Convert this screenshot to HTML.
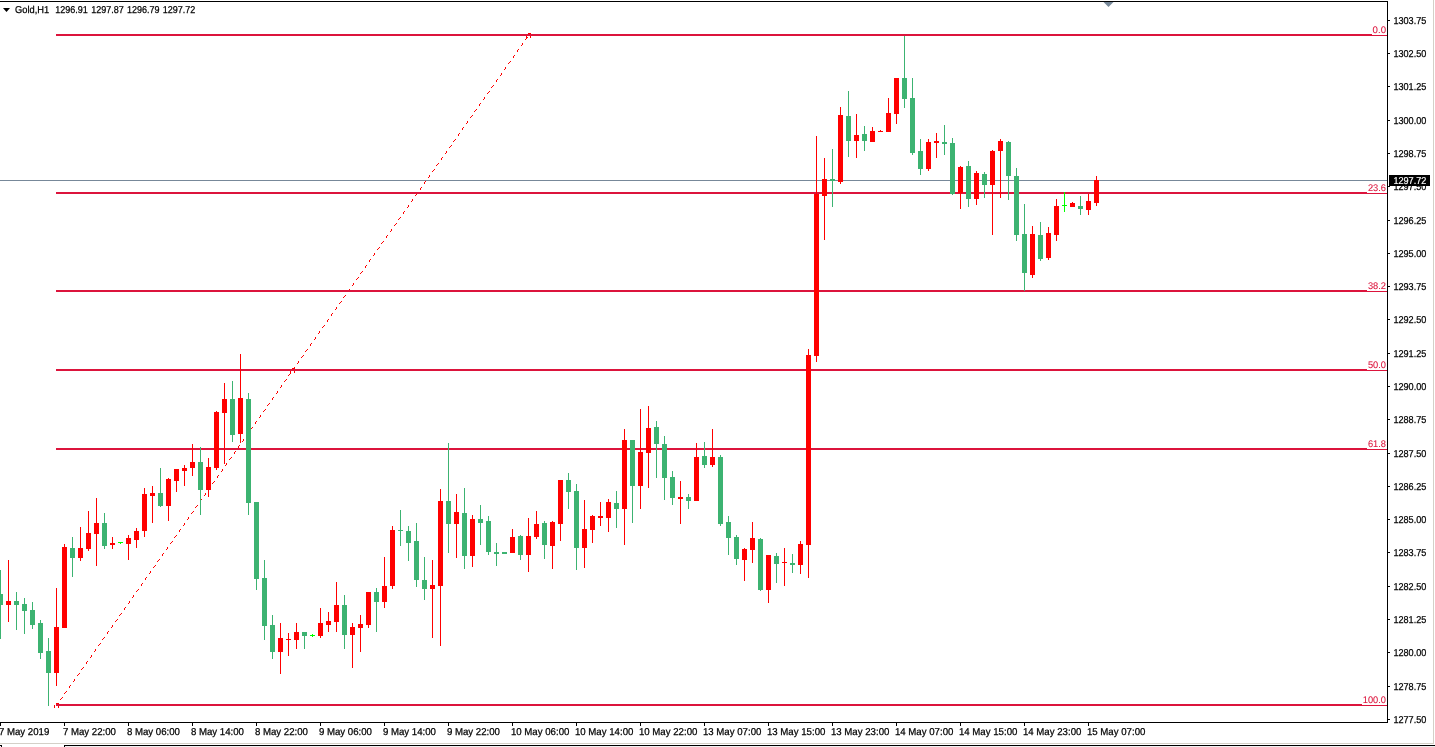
<!DOCTYPE html>
<html><head><meta charset="utf-8"><title>Gold,H1</title>
<style>
html,body{margin:0;padding:0;background:#fff;width:1435px;height:747px;overflow:hidden}
.t{font-family:"Liberation Sans",sans-serif;text-rendering:geometricPrecision;stroke-width:0.18px;paint-order:stroke fill;}
.k{stroke:#000;stroke-width:0.25px}.c{stroke:#dc143c;stroke-width:0.08px}.w{stroke:#fff}
</style></head><body>
<svg width="1435" height="747" viewBox="0 0 1435 747" shape-rendering="crispEdges" style="position:absolute;left:0;top:0">
<rect x="0" y="0" width="1435" height="747" fill="#fff"/>
<path d="M60 699h1v1h-1zM61 698h1v1h-1zM62 697h1v1h-1zM64 693h1v1h-1zM65 692h1v1h-1zM66 691h1v1h-1zM69 687h1v1h-1zM69 686h1v1h-1zM70 685h1v1h-1zM73 681h1v1h-1zM74 680h1v1h-1zM74 679h1v1h-1zM77 675h1v1h-1zM78 674h1v1h-1zM79 673h1v1h-1zM81 669h1v1h-1zM82 668h1v1h-1zM83 667h1v1h-1zM86 663h1v1h-1zM86 662h1v1h-1zM87 661h1v1h-1zM90 657h1v1h-1zM91 656h1v1h-1zM91 655h1v1h-1zM94 651h1v1h-1zM95 650h1v1h-1zM95 649h1v1h-1zM98 645h1v1h-1zM99 644h1v1h-1zM100 643h1v1h-1zM102 639h1v1h-1zM103 638h1v1h-1zM104 637h1v1h-1zM107 633h1v1h-1zM107 632h1v1h-1zM108 631h1v1h-1zM111 627h1v1h-1zM112 626h1v1h-1zM112 625h1v1h-1zM115 621h1v1h-1zM116 620h1v1h-1zM117 619h1v1h-1zM119 615h1v1h-1zM120 614h1v1h-1zM121 613h1v1h-1zM124 609h1v1h-1zM124 608h1v1h-1zM125 607h1v1h-1zM128 603h1v1h-1zM129 602h1v1h-1zM129 601h1v1h-1zM132 597h1v1h-1zM133 596h1v1h-1zM133 595h1v1h-1zM136 591h1v1h-1zM137 590h1v1h-1zM138 589h1v1h-1zM141 585h1v1h-1zM141 584h1v1h-1zM142 583h1v1h-1zM145 579h1v1h-1zM145 578h1v1h-1zM146 577h1v1h-1zM149 573h1v1h-1zM150 572h1v1h-1zM150 571h1v1h-1zM153 567h1v1h-1zM154 566h1v1h-1zM155 565h1v1h-1zM157 561h1v1h-1zM158 560h1v1h-1zM159 559h1v1h-1zM162 555h1v1h-1zM162 554h1v1h-1zM163 553h1v1h-1zM166 549h1v1h-1zM167 548h1v1h-1zM167 547h1v1h-1zM170 543h1v1h-1zM171 542h1v1h-1zM172 541h1v1h-1zM174 537h1v1h-1zM175 536h1v1h-1zM176 535h1v1h-1zM179 531h1v1h-1zM179 530h1v1h-1zM180 529h1v1h-1zM183 525h1v1h-1zM184 524h1v1h-1zM184 523h1v1h-1zM187 519h1v1h-1zM188 518h1v1h-1zM188 517h1v1h-1zM191 513h1v1h-1zM192 512h1v1h-1zM193 511h1v1h-1zM195 507h1v1h-1zM196 506h1v1h-1zM197 505h1v1h-1zM200 501h1v1h-1zM200 500h1v1h-1zM201 499h1v1h-1zM204 495h1v1h-1zM205 494h1v1h-1zM205 493h1v1h-1zM208 489h1v1h-1zM209 488h1v1h-1zM210 487h1v1h-1zM212 483h1v1h-1zM213 482h1v1h-1zM214 481h1v1h-1zM217 477h1v1h-1zM217 476h1v1h-1zM218 475h1v1h-1zM221 471h1v1h-1zM222 470h1v1h-1zM222 469h1v1h-1zM225 465h1v1h-1zM226 464h1v1h-1zM226 463h1v1h-1zM229 459h1v1h-1zM230 458h1v1h-1zM231 457h1v1h-1zM234 453h1v1h-1zM234 452h1v1h-1zM235 451h1v1h-1zM238 447h1v1h-1zM238 446h1v1h-1zM239 445h1v1h-1zM242 441h1v1h-1zM243 440h1v1h-1zM243 439h1v1h-1zM246 435h1v1h-1zM247 434h1v1h-1zM248 433h1v1h-1zM250 429h1v1h-1zM251 428h1v1h-1zM252 427h1v1h-1zM255 423h1v1h-1zM255 422h1v1h-1zM256 421h1v1h-1zM259 417h1v1h-1zM260 416h1v1h-1zM260 415h1v1h-1zM263 411h1v1h-1zM264 410h1v1h-1zM265 409h1v1h-1zM267 405h1v1h-1zM268 404h1v1h-1zM269 403h1v1h-1zM272 399h1v1h-1zM272 398h1v1h-1zM273 397h1v1h-1zM276 393h1v1h-1zM277 392h1v1h-1zM277 391h1v1h-1zM280 387h1v1h-1zM281 386h1v1h-1zM281 385h1v1h-1zM284 381h1v1h-1zM285 380h1v1h-1zM286 379h1v1h-1zM288 375h1v1h-1zM289 374h1v1h-1zM290 373h1v1h-1zM293 369h1v1h-1zM293 368h1v1h-1zM294 367h1v1h-1zM297 363h1v1h-1zM298 362h1v1h-1zM298 361h1v1h-1zM301 357h1v1h-1zM302 356h1v1h-1zM303 355h1v1h-1zM305 351h1v1h-1zM306 350h1v1h-1zM307 349h1v1h-1zM310 345h1v1h-1zM310 344h1v1h-1zM311 343h1v1h-1zM314 339h1v1h-1zM315 338h1v1h-1zM315 337h1v1h-1zM318 333h1v1h-1zM319 332h1v1h-1zM319 331h1v1h-1zM322 327h1v1h-1zM323 326h1v1h-1zM324 325h1v1h-1zM327 321h1v1h-1zM327 320h1v1h-1zM328 319h1v1h-1zM331 315h1v1h-1zM331 314h1v1h-1zM332 313h1v1h-1zM335 309h1v1h-1zM336 308h1v1h-1zM336 307h1v1h-1zM339 303h1v1h-1zM340 302h1v1h-1zM341 301h1v1h-1zM343 297h1v1h-1zM344 296h1v1h-1zM345 295h1v1h-1zM348 291h1v1h-1zM348 290h1v1h-1zM349 289h1v1h-1zM352 285h1v1h-1zM353 284h1v1h-1zM353 283h1v1h-1zM356 279h1v1h-1zM357 278h1v1h-1zM358 277h1v1h-1zM360 273h1v1h-1zM361 272h1v1h-1zM362 271h1v1h-1zM365 267h1v1h-1zM365 266h1v1h-1zM366 265h1v1h-1zM369 261h1v1h-1zM369 260h1v1h-1zM370 259h1v1h-1zM373 255h1v1h-1zM374 254h1v1h-1zM374 253h1v1h-1zM377 249h1v1h-1zM378 248h1v1h-1zM379 247h1v1h-1zM381 243h1v1h-1zM382 242h1v1h-1zM383 241h1v1h-1zM386 237h1v1h-1zM386 236h1v1h-1zM387 235h1v1h-1zM390 231h1v1h-1zM391 230h1v1h-1zM391 229h1v1h-1zM394 225h1v1h-1zM395 224h1v1h-1zM396 223h1v1h-1zM398 219h1v1h-1zM399 218h1v1h-1zM400 217h1v1h-1zM403 213h1v1h-1zM403 212h1v1h-1zM404 211h1v1h-1zM407 207h1v1h-1zM408 206h1v1h-1zM408 205h1v1h-1zM411 201h1v1h-1zM412 200h1v1h-1zM412 199h1v1h-1zM415 195h1v1h-1zM416 194h1v1h-1zM417 193h1v1h-1zM420 189h1v1h-1zM420 188h1v1h-1zM421 187h1v1h-1zM424 183h1v1h-1zM424 182h1v1h-1zM425 181h1v1h-1zM428 177h1v1h-1zM429 176h1v1h-1zM429 175h1v1h-1zM432 171h1v1h-1zM433 170h1v1h-1zM434 169h1v1h-1zM436 165h1v1h-1zM437 164h1v1h-1zM438 163h1v1h-1zM441 159h1v1h-1zM441 158h1v1h-1zM442 157h1v1h-1zM445 153h1v1h-1zM446 152h1v1h-1zM446 151h1v1h-1zM449 147h1v1h-1zM450 146h1v1h-1zM451 145h1v1h-1zM453 141h1v1h-1zM454 140h1v1h-1zM455 139h1v1h-1zM458 135h1v1h-1zM458 134h1v1h-1zM459 133h1v1h-1zM462 129h1v1h-1zM462 128h1v1h-1zM463 127h1v1h-1zM466 123h1v1h-1zM467 122h1v1h-1zM467 121h1v1h-1zM470 117h1v1h-1zM471 116h1v1h-1zM472 115h1v1h-1zM474 111h1v1h-1zM475 110h1v1h-1zM476 109h1v1h-1zM479 105h1v1h-1zM479 104h1v1h-1zM480 103h1v1h-1zM483 99h1v1h-1zM484 98h1v1h-1zM484 97h1v1h-1zM487 93h1v1h-1zM488 92h1v1h-1zM489 91h1v1h-1zM491 87h1v1h-1zM492 86h1v1h-1zM493 85h1v1h-1zM496 81h1v1h-1zM496 80h1v1h-1zM497 79h1v1h-1zM500 75h1v1h-1zM501 74h1v1h-1zM501 73h1v1h-1zM504 69h1v1h-1zM505 68h1v1h-1zM505 67h1v1h-1zM508 63h1v1h-1zM509 62h1v1h-1zM510 61h1v1h-1zM513 57h1v1h-1zM513 56h1v1h-1zM514 55h1v1h-1zM517 51h1v1h-1zM517 50h1v1h-1zM518 49h1v1h-1zM521 45h1v1h-1zM522 44h1v1h-1zM522 43h1v1h-1zM525 39h1v1h-1zM526 38h1v1h-1zM527 37h1v1h-1z" fill="#ff0000"/>
<path d="M56 703h1v1h-1zM57 703h1v1h-1zM58 703h1v1h-1zM58 703h1v1h-1zM58 704h1v1h-1zM58 705h1v1h-1zM58 706h1v1h-1zM58 707h1v1h-1zM54 705h1v1h-1zM54 706h1v1h-1zM54 707h1v1h-1zM292 368h1v1h-1zM293 368h1v1h-1zM294 368h1v1h-1zM294 368h1v1h-1zM294 369h1v1h-1zM294 370h1v1h-1zM294 371h1v1h-1zM294 372h1v1h-1zM290 370h1v1h-1zM290 371h1v1h-1zM290 372h1v1h-1zM528 33h1v1h-1zM529 33h1v1h-1zM530 33h1v1h-1zM530 33h1v1h-1zM530 34h1v1h-1zM530 35h1v1h-1zM530 36h1v1h-1zM530 37h1v1h-1zM526 35h1v1h-1zM526 36h1v1h-1zM526 37h1v1h-1z" fill="#ff0000"/>
<rect x="56" y="34" width="1331" height="2" fill="#dc143c"/>
<rect x="56" y="192" width="1331" height="2" fill="#dc143c"/>
<rect x="56" y="290" width="1331" height="2" fill="#dc143c"/>
<rect x="56" y="369" width="1331" height="2" fill="#dc143c"/>
<rect x="56" y="448" width="1331" height="2" fill="#dc143c"/>
<rect x="56" y="704" width="1331" height="2" fill="#dc143c"/>
<rect x="0" y="180" width="1387" height="1" fill="#778899"/>
<rect x="0" y="570" width="1" height="69" fill="#3cb371"/>
<rect x="-2" y="594" width="5" height="11" fill="#3cb371"/>
<rect x="8" y="560" width="1" height="62" fill="#ff0000"/>
<rect x="6" y="601" width="5" height="4" fill="#ff0000"/>
<rect x="16" y="592" width="1" height="38" fill="#3cb371"/>
<rect x="14" y="601" width="5" height="4" fill="#3cb371"/>
<rect x="24" y="598" width="1" height="36" fill="#3cb371"/>
<rect x="22" y="604" width="5" height="7" fill="#3cb371"/>
<rect x="32" y="602" width="1" height="27" fill="#3cb371"/>
<rect x="30" y="610" width="5" height="15" fill="#3cb371"/>
<rect x="40" y="620" width="1" height="39" fill="#3cb371"/>
<rect x="38" y="623" width="5" height="30" fill="#3cb371"/>
<rect x="48" y="638" width="1" height="68" fill="#3cb371"/>
<rect x="46" y="651" width="5" height="22" fill="#3cb371"/>
<rect x="56" y="588" width="1" height="98" fill="#ff0000"/>
<rect x="54" y="627" width="5" height="46" fill="#ff0000"/>
<rect x="64" y="544" width="1" height="84" fill="#ff0000"/>
<rect x="62" y="547" width="5" height="81" fill="#ff0000"/>
<rect x="72" y="537" width="1" height="40" fill="#3cb371"/>
<rect x="70" y="548" width="5" height="10" fill="#3cb371"/>
<rect x="80" y="527" width="1" height="34" fill="#ff0000"/>
<rect x="78" y="548" width="5" height="10" fill="#ff0000"/>
<rect x="88" y="511" width="1" height="40" fill="#ff0000"/>
<rect x="86" y="533" width="5" height="16" fill="#ff0000"/>
<rect x="96" y="498" width="1" height="68" fill="#ff0000"/>
<rect x="94" y="523" width="5" height="11" fill="#ff0000"/>
<rect x="104" y="513" width="1" height="36" fill="#3cb371"/>
<rect x="102" y="523" width="5" height="23" fill="#3cb371"/>
<rect x="112" y="537" width="1" height="12" fill="#ff0000"/>
<rect x="110" y="543" width="5" height="2" fill="#ff0000"/>
<rect x="120" y="542" width="1" height="2" fill="#00ff00"/>
<rect x="118" y="542" width="5" height="1" fill="#00ff00"/>
<rect x="128" y="535" width="1" height="25" fill="#ff0000"/>
<rect x="126" y="538" width="5" height="6" fill="#ff0000"/>
<rect x="136" y="528" width="1" height="20" fill="#ff0000"/>
<rect x="134" y="531" width="5" height="9" fill="#ff0000"/>
<rect x="144" y="488" width="1" height="49" fill="#ff0000"/>
<rect x="142" y="494" width="5" height="37" fill="#ff0000"/>
<rect x="152" y="486" width="1" height="37" fill="#ff0000"/>
<rect x="150" y="493" width="5" height="3" fill="#ff0000"/>
<rect x="160" y="468" width="1" height="39" fill="#3cb371"/>
<rect x="158" y="493" width="5" height="13" fill="#3cb371"/>
<rect x="168" y="478" width="1" height="43" fill="#ff0000"/>
<rect x="166" y="479" width="5" height="27" fill="#ff0000"/>
<rect x="176" y="469" width="1" height="23" fill="#ff0000"/>
<rect x="174" y="469" width="5" height="12" fill="#ff0000"/>
<rect x="184" y="465" width="1" height="21" fill="#ff0000"/>
<rect x="182" y="468" width="5" height="3" fill="#ff0000"/>
<rect x="192" y="444" width="1" height="32" fill="#ff0000"/>
<rect x="190" y="462" width="5" height="6" fill="#ff0000"/>
<rect x="200" y="447" width="1" height="68" fill="#3cb371"/>
<rect x="198" y="462" width="5" height="28" fill="#3cb371"/>
<rect x="208" y="458" width="1" height="39" fill="#ff0000"/>
<rect x="206" y="467" width="5" height="23" fill="#ff0000"/>
<rect x="216" y="411" width="1" height="59" fill="#ff0000"/>
<rect x="214" y="412" width="5" height="56" fill="#ff0000"/>
<rect x="224" y="383" width="1" height="81" fill="#ff0000"/>
<rect x="222" y="399" width="5" height="14" fill="#ff0000"/>
<rect x="232" y="381" width="1" height="61" fill="#3cb371"/>
<rect x="230" y="399" width="5" height="36" fill="#3cb371"/>
<rect x="240" y="354" width="1" height="89" fill="#ff0000"/>
<rect x="238" y="398" width="5" height="36" fill="#ff0000"/>
<rect x="248" y="393" width="1" height="122" fill="#3cb371"/>
<rect x="246" y="399" width="5" height="104" fill="#3cb371"/>
<rect x="256" y="502" width="1" height="88" fill="#3cb371"/>
<rect x="254" y="502" width="5" height="77" fill="#3cb371"/>
<rect x="264" y="560" width="1" height="80" fill="#3cb371"/>
<rect x="262" y="578" width="5" height="48" fill="#3cb371"/>
<rect x="272" y="615" width="1" height="44" fill="#3cb371"/>
<rect x="270" y="625" width="5" height="27" fill="#3cb371"/>
<rect x="280" y="623" width="1" height="51" fill="#ff0000"/>
<rect x="278" y="638" width="5" height="14" fill="#ff0000"/>
<rect x="288" y="633" width="1" height="23" fill="#ff0000"/>
<rect x="286" y="639" width="5" height="1" fill="#ff0000"/>
<rect x="296" y="623" width="1" height="26" fill="#ff0000"/>
<rect x="294" y="632" width="5" height="8" fill="#ff0000"/>
<rect x="304" y="632" width="1" height="17" fill="#3cb371"/>
<rect x="302" y="632" width="5" height="4" fill="#3cb371"/>
<rect x="312" y="634" width="1" height="3" fill="#00ff00"/>
<rect x="310" y="635" width="5" height="1" fill="#00ff00"/>
<rect x="320" y="608" width="1" height="30" fill="#ff0000"/>
<rect x="318" y="623" width="5" height="13" fill="#ff0000"/>
<rect x="328" y="612" width="1" height="20" fill="#ff0000"/>
<rect x="326" y="621" width="5" height="4" fill="#ff0000"/>
<rect x="336" y="582" width="1" height="50" fill="#ff0000"/>
<rect x="334" y="605" width="5" height="17" fill="#ff0000"/>
<rect x="344" y="595" width="1" height="54" fill="#3cb371"/>
<rect x="342" y="605" width="5" height="30" fill="#3cb371"/>
<rect x="352" y="623" width="1" height="45" fill="#ff0000"/>
<rect x="350" y="627" width="5" height="8" fill="#ff0000"/>
<rect x="360" y="615" width="1" height="37" fill="#ff0000"/>
<rect x="358" y="624" width="5" height="4" fill="#ff0000"/>
<rect x="368" y="592" width="1" height="36" fill="#ff0000"/>
<rect x="366" y="592" width="5" height="33" fill="#ff0000"/>
<rect x="376" y="588" width="1" height="44" fill="#3cb371"/>
<rect x="374" y="592" width="5" height="10" fill="#3cb371"/>
<rect x="384" y="557" width="1" height="51" fill="#ff0000"/>
<rect x="382" y="586" width="5" height="16" fill="#ff0000"/>
<rect x="392" y="526" width="1" height="63" fill="#ff0000"/>
<rect x="390" y="530" width="5" height="56" fill="#ff0000"/>
<rect x="400" y="510" width="1" height="36" fill="#3cb371"/>
<rect x="398" y="530" width="5" height="1" fill="#3cb371"/>
<rect x="408" y="526" width="1" height="35" fill="#3cb371"/>
<rect x="406" y="531" width="5" height="12" fill="#3cb371"/>
<rect x="416" y="523" width="1" height="64" fill="#3cb371"/>
<rect x="414" y="541" width="5" height="39" fill="#3cb371"/>
<rect x="424" y="557" width="1" height="43" fill="#3cb371"/>
<rect x="422" y="580" width="5" height="9" fill="#3cb371"/>
<rect x="432" y="560" width="1" height="78" fill="#ff0000"/>
<rect x="430" y="585" width="5" height="4" fill="#ff0000"/>
<rect x="440" y="489" width="1" height="157" fill="#ff0000"/>
<rect x="438" y="501" width="5" height="85" fill="#ff0000"/>
<rect x="448" y="443" width="1" height="110" fill="#3cb371"/>
<rect x="446" y="501" width="5" height="23" fill="#3cb371"/>
<rect x="456" y="494" width="1" height="64" fill="#ff0000"/>
<rect x="454" y="512" width="5" height="12" fill="#ff0000"/>
<rect x="464" y="488" width="1" height="81" fill="#3cb371"/>
<rect x="462" y="513" width="5" height="43" fill="#3cb371"/>
<rect x="472" y="515" width="1" height="52" fill="#ff0000"/>
<rect x="470" y="519" width="5" height="37" fill="#ff0000"/>
<rect x="480" y="505" width="1" height="40" fill="#3cb371"/>
<rect x="478" y="519" width="5" height="4" fill="#3cb371"/>
<rect x="488" y="516" width="1" height="39" fill="#3cb371"/>
<rect x="486" y="521" width="5" height="31" fill="#3cb371"/>
<rect x="496" y="543" width="1" height="23" fill="#3cb371"/>
<rect x="494" y="552" width="5" height="2" fill="#3cb371"/>
<rect x="504" y="552" width="1" height="2" fill="#3cb371"/>
<rect x="502" y="552" width="5" height="2" fill="#3cb371"/>
<rect x="512" y="529" width="1" height="24" fill="#ff0000"/>
<rect x="510" y="537" width="5" height="16" fill="#ff0000"/>
<rect x="520" y="535" width="1" height="25" fill="#3cb371"/>
<rect x="518" y="536" width="5" height="19" fill="#3cb371"/>
<rect x="528" y="518" width="1" height="54" fill="#ff0000"/>
<rect x="526" y="536" width="5" height="19" fill="#ff0000"/>
<rect x="536" y="511" width="1" height="28" fill="#ff0000"/>
<rect x="534" y="524" width="5" height="13" fill="#ff0000"/>
<rect x="544" y="521" width="1" height="38" fill="#3cb371"/>
<rect x="542" y="523" width="5" height="22" fill="#3cb371"/>
<rect x="552" y="521" width="1" height="48" fill="#ff0000"/>
<rect x="550" y="522" width="5" height="24" fill="#ff0000"/>
<rect x="560" y="480" width="1" height="61" fill="#ff0000"/>
<rect x="558" y="480" width="5" height="44" fill="#ff0000"/>
<rect x="568" y="473" width="1" height="36" fill="#3cb371"/>
<rect x="566" y="480" width="5" height="12" fill="#3cb371"/>
<rect x="576" y="484" width="1" height="86" fill="#3cb371"/>
<rect x="574" y="491" width="5" height="57" fill="#3cb371"/>
<rect x="584" y="500" width="1" height="68" fill="#ff0000"/>
<rect x="582" y="529" width="5" height="19" fill="#ff0000"/>
<rect x="592" y="515" width="1" height="28" fill="#ff0000"/>
<rect x="590" y="516" width="5" height="14" fill="#ff0000"/>
<rect x="600" y="502" width="1" height="24" fill="#ff0000"/>
<rect x="598" y="516" width="5" height="2" fill="#ff0000"/>
<rect x="608" y="499" width="1" height="33" fill="#ff0000"/>
<rect x="606" y="502" width="5" height="16" fill="#ff0000"/>
<rect x="616" y="491" width="1" height="37" fill="#3cb371"/>
<rect x="614" y="503" width="5" height="6" fill="#3cb371"/>
<rect x="624" y="429" width="1" height="116" fill="#ff0000"/>
<rect x="622" y="440" width="5" height="69" fill="#ff0000"/>
<rect x="632" y="440" width="1" height="83" fill="#3cb371"/>
<rect x="630" y="440" width="5" height="46" fill="#3cb371"/>
<rect x="640" y="409" width="1" height="100" fill="#ff0000"/>
<rect x="638" y="452" width="5" height="34" fill="#ff0000"/>
<rect x="648" y="406" width="1" height="82" fill="#ff0000"/>
<rect x="646" y="428" width="5" height="25" fill="#ff0000"/>
<rect x="656" y="421" width="1" height="57" fill="#3cb371"/>
<rect x="654" y="427" width="5" height="17" fill="#3cb371"/>
<rect x="664" y="436" width="1" height="64" fill="#3cb371"/>
<rect x="662" y="444" width="5" height="34" fill="#3cb371"/>
<rect x="672" y="471" width="1" height="34" fill="#3cb371"/>
<rect x="670" y="477" width="5" height="21" fill="#3cb371"/>
<rect x="680" y="481" width="1" height="43" fill="#ff0000"/>
<rect x="678" y="497" width="5" height="2" fill="#ff0000"/>
<rect x="688" y="494" width="1" height="15" fill="#3cb371"/>
<rect x="686" y="497" width="5" height="4" fill="#3cb371"/>
<rect x="696" y="443" width="1" height="58" fill="#ff0000"/>
<rect x="694" y="457" width="5" height="44" fill="#ff0000"/>
<rect x="704" y="442" width="1" height="26" fill="#3cb371"/>
<rect x="702" y="456" width="5" height="9" fill="#3cb371"/>
<rect x="712" y="429" width="1" height="38" fill="#ff0000"/>
<rect x="710" y="457" width="5" height="8" fill="#ff0000"/>
<rect x="720" y="455" width="1" height="71" fill="#3cb371"/>
<rect x="718" y="457" width="5" height="67" fill="#3cb371"/>
<rect x="728" y="516" width="1" height="39" fill="#3cb371"/>
<rect x="726" y="522" width="5" height="16" fill="#3cb371"/>
<rect x="736" y="535" width="1" height="30" fill="#3cb371"/>
<rect x="734" y="537" width="5" height="22" fill="#3cb371"/>
<rect x="744" y="548" width="1" height="33" fill="#ff0000"/>
<rect x="742" y="549" width="5" height="11" fill="#ff0000"/>
<rect x="752" y="522" width="1" height="41" fill="#ff0000"/>
<rect x="750" y="538" width="5" height="12" fill="#ff0000"/>
<rect x="760" y="538" width="1" height="53" fill="#3cb371"/>
<rect x="758" y="539" width="5" height="51" fill="#3cb371"/>
<rect x="768" y="555" width="1" height="48" fill="#ff0000"/>
<rect x="766" y="555" width="5" height="35" fill="#ff0000"/>
<rect x="776" y="553" width="1" height="30" fill="#3cb371"/>
<rect x="774" y="556" width="5" height="8" fill="#3cb371"/>
<rect x="784" y="548" width="1" height="38" fill="#ff0000"/>
<rect x="782" y="562" width="5" height="1" fill="#ff0000"/>
<rect x="792" y="554" width="1" height="19" fill="#3cb371"/>
<rect x="790" y="563" width="5" height="2" fill="#3cb371"/>
<rect x="800" y="541" width="1" height="33" fill="#ff0000"/>
<rect x="798" y="544" width="5" height="21" fill="#ff0000"/>
<rect x="808" y="349" width="1" height="229" fill="#ff0000"/>
<rect x="806" y="355" width="5" height="190" fill="#ff0000"/>
<rect x="816" y="136" width="1" height="226" fill="#ff0000"/>
<rect x="814" y="194" width="5" height="162" fill="#ff0000"/>
<rect x="824" y="158" width="1" height="82" fill="#ff0000"/>
<rect x="822" y="179" width="5" height="17" fill="#ff0000"/>
<rect x="832" y="149" width="1" height="58" fill="#3cb371"/>
<rect x="830" y="179" width="5" height="2" fill="#3cb371"/>
<rect x="840" y="107" width="1" height="77" fill="#ff0000"/>
<rect x="838" y="115" width="5" height="67" fill="#ff0000"/>
<rect x="848" y="91" width="1" height="66" fill="#3cb371"/>
<rect x="846" y="116" width="5" height="25" fill="#3cb371"/>
<rect x="856" y="114" width="1" height="44" fill="#ff0000"/>
<rect x="854" y="135" width="5" height="6" fill="#ff0000"/>
<rect x="864" y="126" width="1" height="25" fill="#3cb371"/>
<rect x="862" y="134" width="5" height="7" fill="#3cb371"/>
<rect x="872" y="127" width="1" height="15" fill="#ff0000"/>
<rect x="870" y="131" width="5" height="11" fill="#ff0000"/>
<rect x="880" y="130" width="1" height="2" fill="#ff0000"/>
<rect x="878" y="131" width="5" height="1" fill="#ff0000"/>
<rect x="888" y="98" width="1" height="34" fill="#ff0000"/>
<rect x="886" y="113" width="5" height="19" fill="#ff0000"/>
<rect x="896" y="78" width="1" height="46" fill="#ff0000"/>
<rect x="894" y="78" width="5" height="36" fill="#ff0000"/>
<rect x="904" y="36" width="1" height="72" fill="#3cb371"/>
<rect x="902" y="78" width="5" height="21" fill="#3cb371"/>
<rect x="912" y="78" width="1" height="77" fill="#3cb371"/>
<rect x="910" y="98" width="5" height="55" fill="#3cb371"/>
<rect x="920" y="139" width="1" height="36" fill="#3cb371"/>
<rect x="918" y="151" width="5" height="18" fill="#3cb371"/>
<rect x="928" y="139" width="1" height="32" fill="#ff0000"/>
<rect x="926" y="142" width="5" height="27" fill="#ff0000"/>
<rect x="936" y="133" width="1" height="25" fill="#ff0000"/>
<rect x="934" y="141" width="5" height="2" fill="#ff0000"/>
<rect x="944" y="125" width="1" height="30" fill="#3cb371"/>
<rect x="942" y="142" width="5" height="2" fill="#3cb371"/>
<rect x="952" y="138" width="1" height="57" fill="#3cb371"/>
<rect x="950" y="143" width="5" height="51" fill="#3cb371"/>
<rect x="960" y="166" width="1" height="43" fill="#ff0000"/>
<rect x="958" y="167" width="5" height="26" fill="#ff0000"/>
<rect x="968" y="161" width="1" height="46" fill="#3cb371"/>
<rect x="966" y="166" width="5" height="33" fill="#3cb371"/>
<rect x="976" y="171" width="1" height="34" fill="#ff0000"/>
<rect x="974" y="173" width="5" height="26" fill="#ff0000"/>
<rect x="984" y="172" width="1" height="26" fill="#3cb371"/>
<rect x="982" y="174" width="5" height="11" fill="#3cb371"/>
<rect x="992" y="150" width="1" height="85" fill="#ff0000"/>
<rect x="990" y="151" width="5" height="34" fill="#ff0000"/>
<rect x="1000" y="139" width="1" height="59" fill="#ff0000"/>
<rect x="998" y="141" width="5" height="10" fill="#ff0000"/>
<rect x="1008" y="141" width="1" height="59" fill="#3cb371"/>
<rect x="1006" y="142" width="5" height="34" fill="#3cb371"/>
<rect x="1016" y="168" width="1" height="73" fill="#3cb371"/>
<rect x="1014" y="176" width="5" height="59" fill="#3cb371"/>
<rect x="1024" y="204" width="1" height="87" fill="#3cb371"/>
<rect x="1022" y="234" width="5" height="39" fill="#3cb371"/>
<rect x="1032" y="226" width="1" height="52" fill="#ff0000"/>
<rect x="1030" y="234" width="5" height="41" fill="#ff0000"/>
<rect x="1040" y="222" width="1" height="39" fill="#3cb371"/>
<rect x="1038" y="235" width="5" height="24" fill="#3cb371"/>
<rect x="1048" y="227" width="1" height="33" fill="#ff0000"/>
<rect x="1046" y="233" width="5" height="25" fill="#ff0000"/>
<rect x="1056" y="199" width="1" height="42" fill="#ff0000"/>
<rect x="1054" y="206" width="5" height="29" fill="#ff0000"/>
<rect x="1064" y="192" width="1" height="20" fill="#00ff00"/>
<rect x="1062" y="205" width="5" height="1" fill="#00ff00"/>
<rect x="1072" y="202" width="1" height="5" fill="#ff0000"/>
<rect x="1070" y="203" width="5" height="4" fill="#ff0000"/>
<rect x="1080" y="196" width="1" height="19" fill="#3cb371"/>
<rect x="1078" y="206" width="5" height="3" fill="#3cb371"/>
<rect x="1088" y="194" width="1" height="21" fill="#ff0000"/>
<rect x="1086" y="201" width="5" height="9" fill="#ff0000"/>
<rect x="1096" y="176" width="1" height="30" fill="#ff0000"/>
<rect x="1094" y="180" width="5" height="23" fill="#ff0000"/>
<rect x="1372" y="24" width="15" height="11" fill="#fff"/>
<text x="1372.6" y="33" textLength="13.4" lengthAdjust="spacingAndGlyphs" font-size="9.6" fill="#dc143c" class="t c">0.0</text>
<rect x="1367" y="182" width="20" height="11" fill="#fff"/>
<text x="1367.9" y="191" textLength="18.1" lengthAdjust="spacingAndGlyphs" font-size="9.6" fill="#dc143c" class="t c">23.6</text>
<rect x="1367" y="280" width="20" height="11" fill="#fff"/>
<text x="1367.9" y="289" textLength="18.1" lengthAdjust="spacingAndGlyphs" font-size="9.6" fill="#dc143c" class="t c">38.2</text>
<rect x="1367" y="359" width="20" height="11" fill="#fff"/>
<text x="1367.9" y="368" textLength="18.1" lengthAdjust="spacingAndGlyphs" font-size="9.6" fill="#dc143c" class="t c">50.0</text>
<rect x="1367" y="438" width="20" height="11" fill="#fff"/>
<text x="1367.9" y="447" textLength="18.1" lengthAdjust="spacingAndGlyphs" font-size="9.6" fill="#dc143c" class="t c">61.8</text>
<rect x="1362" y="694" width="25" height="11" fill="#fff"/>
<text x="1362.8" y="703" textLength="23.2" lengthAdjust="spacingAndGlyphs" font-size="9.6" fill="#dc143c" class="t c">100.0</text>
<rect x="0" y="1" width="1388" height="1" fill="#000"/>
<rect x="1387" y="1" width="1" height="722" fill="#000"/>
<rect x="0" y="722" width="1388" height="1" fill="#000"/>
<polygon points="1103.5,2 1113.5,2 1108.5,7" fill="#778899" shape-rendering="auto"/>
<rect x="1388" y="20" width="2" height="1" fill="#000"/>
<text x="1393.4" y="24" textLength="32.9" lengthAdjust="spacingAndGlyphs" font-size="10" fill="#000" class="t k">1303.75</text>
<rect x="1388" y="53" width="2" height="1" fill="#000"/>
<text x="1393.4" y="57" textLength="32.9" lengthAdjust="spacingAndGlyphs" font-size="10" fill="#000" class="t k">1302.50</text>
<rect x="1388" y="86" width="2" height="1" fill="#000"/>
<text x="1393.4" y="90" textLength="32.9" lengthAdjust="spacingAndGlyphs" font-size="10" fill="#000" class="t k">1301.25</text>
<rect x="1388" y="120" width="2" height="1" fill="#000"/>
<text x="1393.4" y="124" textLength="32.9" lengthAdjust="spacingAndGlyphs" font-size="10" fill="#000" class="t k">1300.00</text>
<rect x="1388" y="153" width="2" height="1" fill="#000"/>
<text x="1393.4" y="157" textLength="32.9" lengthAdjust="spacingAndGlyphs" font-size="10" fill="#000" class="t k">1298.75</text>
<rect x="1388" y="186" width="2" height="1" fill="#000"/>
<text x="1393.4" y="190" textLength="32.9" lengthAdjust="spacingAndGlyphs" font-size="10" fill="#000" class="t k">1297.50</text>
<rect x="1388" y="220" width="2" height="1" fill="#000"/>
<text x="1393.4" y="224" textLength="32.9" lengthAdjust="spacingAndGlyphs" font-size="10" fill="#000" class="t k">1296.25</text>
<rect x="1388" y="253" width="2" height="1" fill="#000"/>
<text x="1393.4" y="257" textLength="32.9" lengthAdjust="spacingAndGlyphs" font-size="10" fill="#000" class="t k">1295.00</text>
<rect x="1388" y="286" width="2" height="1" fill="#000"/>
<text x="1393.4" y="290" textLength="32.9" lengthAdjust="spacingAndGlyphs" font-size="10" fill="#000" class="t k">1293.75</text>
<rect x="1388" y="319" width="2" height="1" fill="#000"/>
<text x="1393.4" y="323" textLength="32.9" lengthAdjust="spacingAndGlyphs" font-size="10" fill="#000" class="t k">1292.50</text>
<rect x="1388" y="353" width="2" height="1" fill="#000"/>
<text x="1393.4" y="357" textLength="32.9" lengthAdjust="spacingAndGlyphs" font-size="10" fill="#000" class="t k">1291.25</text>
<rect x="1388" y="386" width="2" height="1" fill="#000"/>
<text x="1393.4" y="390" textLength="32.9" lengthAdjust="spacingAndGlyphs" font-size="10" fill="#000" class="t k">1290.00</text>
<rect x="1388" y="419" width="2" height="1" fill="#000"/>
<text x="1393.4" y="423" textLength="32.9" lengthAdjust="spacingAndGlyphs" font-size="10" fill="#000" class="t k">1288.75</text>
<rect x="1388" y="453" width="2" height="1" fill="#000"/>
<text x="1393.4" y="457" textLength="32.9" lengthAdjust="spacingAndGlyphs" font-size="10" fill="#000" class="t k">1287.50</text>
<rect x="1388" y="486" width="2" height="1" fill="#000"/>
<text x="1393.4" y="490" textLength="32.9" lengthAdjust="spacingAndGlyphs" font-size="10" fill="#000" class="t k">1286.25</text>
<rect x="1388" y="519" width="2" height="1" fill="#000"/>
<text x="1393.4" y="523" textLength="32.9" lengthAdjust="spacingAndGlyphs" font-size="10" fill="#000" class="t k">1285.00</text>
<rect x="1388" y="552" width="2" height="1" fill="#000"/>
<text x="1393.4" y="556" textLength="32.9" lengthAdjust="spacingAndGlyphs" font-size="10" fill="#000" class="t k">1283.75</text>
<rect x="1388" y="586" width="2" height="1" fill="#000"/>
<text x="1393.4" y="590" textLength="32.9" lengthAdjust="spacingAndGlyphs" font-size="10" fill="#000" class="t k">1282.50</text>
<rect x="1388" y="619" width="2" height="1" fill="#000"/>
<text x="1393.4" y="623" textLength="32.9" lengthAdjust="spacingAndGlyphs" font-size="10" fill="#000" class="t k">1281.25</text>
<rect x="1388" y="652" width="2" height="1" fill="#000"/>
<text x="1393.4" y="656" textLength="32.9" lengthAdjust="spacingAndGlyphs" font-size="10" fill="#000" class="t k">1280.00</text>
<rect x="1388" y="686" width="2" height="1" fill="#000"/>
<text x="1393.4" y="690" textLength="32.9" lengthAdjust="spacingAndGlyphs" font-size="10" fill="#000" class="t k">1278.75</text>
<rect x="1388" y="719" width="2" height="1" fill="#000"/>
<text x="1393.4" y="723" textLength="32.9" lengthAdjust="spacingAndGlyphs" font-size="10" fill="#000" class="t k">1277.50</text>
<rect x="1389" y="175" width="41" height="11" fill="#000"/>
<text x="1393.4" y="184" textLength="32.9" lengthAdjust="spacingAndGlyphs" font-size="10" fill="#fff" class="t w">1297.72</text>
<rect x="0" y="722" width="1" height="4" fill="#000"/>
<text x="-1.1" y="735" textLength="50.4" lengthAdjust="spacingAndGlyphs" font-size="10" fill="#000" class="t k">7 May 2019</text>
<rect x="64" y="722" width="1" height="4" fill="#000"/>
<text x="62.9" y="735" textLength="53.1" lengthAdjust="spacingAndGlyphs" font-size="10" fill="#000" class="t k">7 May 22:00</text>
<rect x="128" y="722" width="1" height="4" fill="#000"/>
<text x="126.9" y="735" textLength="53.1" lengthAdjust="spacingAndGlyphs" font-size="10" fill="#000" class="t k">8 May 06:00</text>
<rect x="192" y="722" width="1" height="4" fill="#000"/>
<text x="190.9" y="735" textLength="53.1" lengthAdjust="spacingAndGlyphs" font-size="10" fill="#000" class="t k">8 May 14:00</text>
<rect x="256" y="722" width="1" height="4" fill="#000"/>
<text x="254.9" y="735" textLength="53.1" lengthAdjust="spacingAndGlyphs" font-size="10" fill="#000" class="t k">8 May 22:00</text>
<rect x="320" y="722" width="1" height="4" fill="#000"/>
<text x="318.9" y="735" textLength="53.1" lengthAdjust="spacingAndGlyphs" font-size="10" fill="#000" class="t k">9 May 06:00</text>
<rect x="384" y="722" width="1" height="4" fill="#000"/>
<text x="382.9" y="735" textLength="53.1" lengthAdjust="spacingAndGlyphs" font-size="10" fill="#000" class="t k">9 May 14:00</text>
<rect x="448" y="722" width="1" height="4" fill="#000"/>
<text x="446.9" y="735" textLength="53.1" lengthAdjust="spacingAndGlyphs" font-size="10" fill="#000" class="t k">9 May 22:00</text>
<rect x="512" y="722" width="1" height="4" fill="#000"/>
<text x="510.9" y="735" textLength="58.5" lengthAdjust="spacingAndGlyphs" font-size="10" fill="#000" class="t k">10 May 06:00</text>
<rect x="576" y="722" width="1" height="4" fill="#000"/>
<text x="574.9" y="735" textLength="58.5" lengthAdjust="spacingAndGlyphs" font-size="10" fill="#000" class="t k">10 May 14:00</text>
<rect x="640" y="722" width="1" height="4" fill="#000"/>
<text x="638.9" y="735" textLength="58.5" lengthAdjust="spacingAndGlyphs" font-size="10" fill="#000" class="t k">10 May 22:00</text>
<rect x="704" y="722" width="1" height="4" fill="#000"/>
<text x="702.9" y="735" textLength="58.5" lengthAdjust="spacingAndGlyphs" font-size="10" fill="#000" class="t k">13 May 07:00</text>
<rect x="768" y="722" width="1" height="4" fill="#000"/>
<text x="766.9" y="735" textLength="58.5" lengthAdjust="spacingAndGlyphs" font-size="10" fill="#000" class="t k">13 May 15:00</text>
<rect x="832" y="722" width="1" height="4" fill="#000"/>
<text x="830.9" y="735" textLength="58.5" lengthAdjust="spacingAndGlyphs" font-size="10" fill="#000" class="t k">13 May 23:00</text>
<rect x="896" y="722" width="1" height="4" fill="#000"/>
<text x="894.9" y="735" textLength="58.5" lengthAdjust="spacingAndGlyphs" font-size="10" fill="#000" class="t k">14 May 07:00</text>
<rect x="960" y="722" width="1" height="4" fill="#000"/>
<text x="958.9" y="735" textLength="58.5" lengthAdjust="spacingAndGlyphs" font-size="10" fill="#000" class="t k">14 May 15:00</text>
<rect x="1024" y="722" width="1" height="4" fill="#000"/>
<text x="1022.9" y="735" textLength="58.5" lengthAdjust="spacingAndGlyphs" font-size="10" fill="#000" class="t k">14 May 23:00</text>
<rect x="1088" y="722" width="1" height="4" fill="#000"/>
<text x="1086.9" y="735" textLength="58.5" lengthAdjust="spacingAndGlyphs" font-size="10" fill="#000" class="t k">15 May 07:00</text>
<polygon points="3,8 10,8 6.5,12" fill="#000" shape-rendering="auto"/>
<text x="15" y="13" textLength="34.1" lengthAdjust="spacingAndGlyphs" font-size="10" fill="#000" class="t k">Gold,H1</text>
<text x="55.3" y="13" textLength="32.6" lengthAdjust="spacingAndGlyphs" font-size="10" fill="#000" class="t k">1296.91</text>
<text x="91.2" y="13" textLength="32.6" lengthAdjust="spacingAndGlyphs" font-size="10" fill="#000" class="t k">1297.87</text>
<text x="127.0" y="13" textLength="32.6" lengthAdjust="spacingAndGlyphs" font-size="10" fill="#000" class="t k">1296.79</text>
<text x="162.8" y="13" textLength="32.6" lengthAdjust="spacingAndGlyphs" font-size="10" fill="#000" class="t k">1297.72</text>
<rect x="0" y="743" width="1434" height="1" fill="#d4d0c8"/>
<rect x="1433" y="0" width="1" height="744" fill="#d4d0c8"/>
<rect x="64" y="745" width="1371" height="1" fill="#000"/>
<rect x="64" y="745" width="1" height="2" fill="#000"/>
<rect x="65" y="746" width="1370" height="1" fill="#f0f0f0"/>
<rect x="0" y="745" width="2" height="1" fill="#000"/>
<rect x="1" y="745" width="1" height="2" fill="#000"/>
</svg>
</body></html>
